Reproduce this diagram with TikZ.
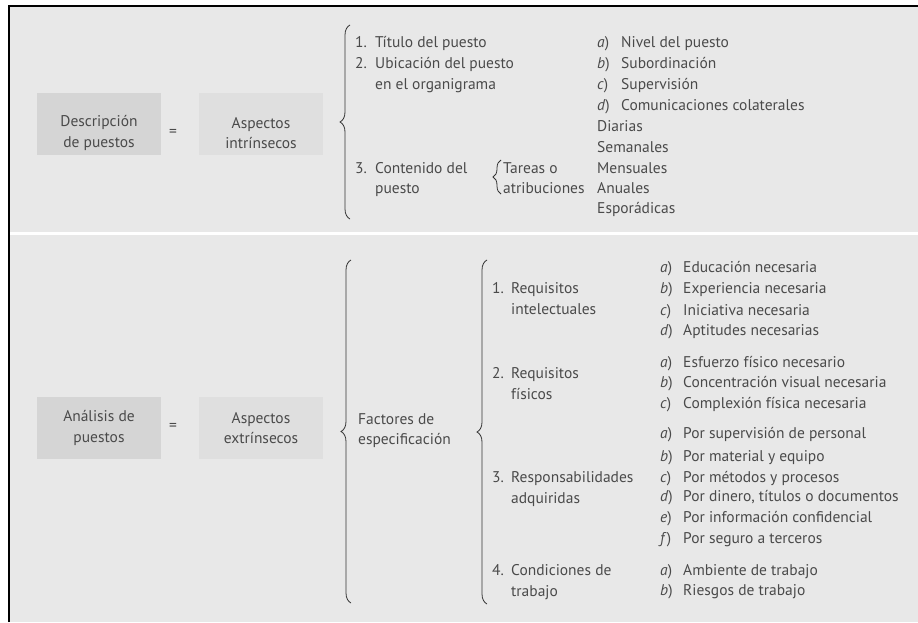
\documentclass[tikz,border=0pt]{standalone}
\usepackage{fontspec}
\setmainfont{PT Sans}
\usetikzlibrary{decorations.pathreplacing}
\definecolor{bgc}{HTML}{E8E8E8}
\definecolor{boxa}{HTML}{D5D5D5}
\definecolor{boxb}{HTML}{DFDFDF}
\definecolor{ink}{HTML}{4A4A4A}
\definecolor{brcol}{HTML}{333333}
\newcommand{\dfont}{\fontsize{15.5}{20.5}\selectfont}
\begin{document}
\begin{tikzpicture}[x=1pt,y=-1pt,
  txt/.style={anchor=base west, inner sep=0pt, text=ink, font=\dfont},
  boxd/.style={minimum width=124pt, minimum height=62pt, inner sep=0pt, align=center, text=ink, font=\dfont, fill=boxa},
  boxl/.style={minimum width=124pt, minimum height=62pt, inner sep=0pt, align=center, text=ink, font=\dfont, fill=boxb},
  btxt/.style={inner sep=0pt, align=center, text=ink, font=\dfont},
  eqs/.style={inner sep=0pt, text=ink, font=\dfont},
  brc/.style={draw=brcol, line width=0.8pt, decorate, decoration={brace, amplitude=#1}},
  brc/.default=10pt]
\useasboundingbox (0,0) rectangle (918,622);
\fill[white] (0,0) rectangle (918,622);
\fill[bgc] (9,6) rectangle (918,622);
\draw[black, line width=2.2pt] (9,622) -- (9,6) -- (918,6);
\fill[white] (10,231.5) rectangle (918,235);

% ---------- top section ----------
\node[boxd] (desc) at (99,124) {};
\node[btxt] (desct) at (99,133) {Descripción\\de puestos};
\node[eqs] (eq1) at (173,133) {=};
\node[boxl] (intr) at (261,124) {};
\node[btxt] (intrt) at (261,133) {Aspectos\\intrínsecos};

\coordinate (b1t) at (350,25);
\coordinate (b1b) at (350,219);
\draw[brc] (b1b) -- (b1t);

\node[txt] (n1) at (355,47) {1.};
\node[txt] (n1t) at (375,47) {Título del puesto};
\node[txt] (n2) at (355,68) {2.};
\node[txt] (n2t) at (375,68) {Ubicación del puesto};
\node[txt] (n2u) at (375,89) {en el organigrama};
\node[txt] (n3) at (355,173) {3.};
\node[txt] (n3t) at (375,173) {Contenido del};
\node[txt] (n3u) at (375,193) {puesto};

\coordinate (b0t) at (501,160);
\coordinate (b0b) at (501,194);
\draw[brc=8pt] (b0b) -- (b0t);
\node[txt] (ta1) at (503,173) {Tareas o};
\node[txt] (ta2) at (503,193) {atribuciones};

\foreach \n/\l/\t/\y in {1/a/Nivel del puesto/47, 2/b/Subordinación/68, 3/c/Supervisión/89, 4/d/Comunicaciones colaterales/110}{
  \node[txt] (tl\n) at (597,\y) {\textit{\l})};
  \node[txt] (tt\n) at (621,\y) {\t};
}
\foreach \n/\t/\y in {1/Diarias/131, 2/Semanales/152, 3/Mensuales/173, 4/Anuales/193, 5/Esporádicas/213}{
  \node[txt] (fr\n) at (597,\y) {\t};
}

% ---------- bottom section ----------
\node[boxd] (anal) at (99,428) {Análisis de\\puestos};
\node[eqs] (eq2) at (173,427) {=};
\node[boxl] (extr) at (261,428) {Aspectos\\extrínsecos};

\coordinate (b2t) at (351,260);
\coordinate (b2b) at (351,603);
\draw[brc] (b2b) -- (b2t);
\node[txt] (fac1) at (358,424) {Factores de};
\node[txt] (fac2) at (358,444) {especificación};

\coordinate (b3t) at (487,260);
\coordinate (b3b) at (487,604);
\draw[brc] (b3b) -- (b3t);

\foreach \n/\a/\b/\y in {1/Requisitos/intelectuales/293, 2/Requisitos/físicos/378, 3/Responsabilidades/adquiridas/482, 4/Condiciones de/trabajo/575}{
  \node[txt] (g\n) at (492,\y) {\n.};
  \node[txt] (g\n a) at (511,\y) {\a};
  \node[txt] (g\n b) at (511,\y+21) {\b};
}

\foreach \n/\l/\t/\y in {
  1/a/Educación necesaria/272,
  2/b/Experiencia necesaria/293,
  3/c/Iniciativa necesaria/315,
  4/d/Aptitudes necesarias/335,
  5/a/Esfuerzo físico necesario/367,
  6/b/Concentración visual necesaria/387,
  7/c/Complexión física necesaria/408,
  8/a/Por supervisión de personal/438,
  9/b/Por material y equipo/461,
  10/c/Por métodos y procesos/482,
  11/d/{Por dinero, títulos o documentos}/501,
  12/e/Por información confidencial/522,
  13/f/Por seguro a terceros/543,
  14/a/Ambiente de trabajo/575,
  15/b/Riesgos de trabajo/595}{
  \node[txt] (rl\n) at (660,\y) {\textit{\l})};
  \node[txt] (rt\n) at (683,\y) {\t};
}
\end{tikzpicture}
\end{document}
